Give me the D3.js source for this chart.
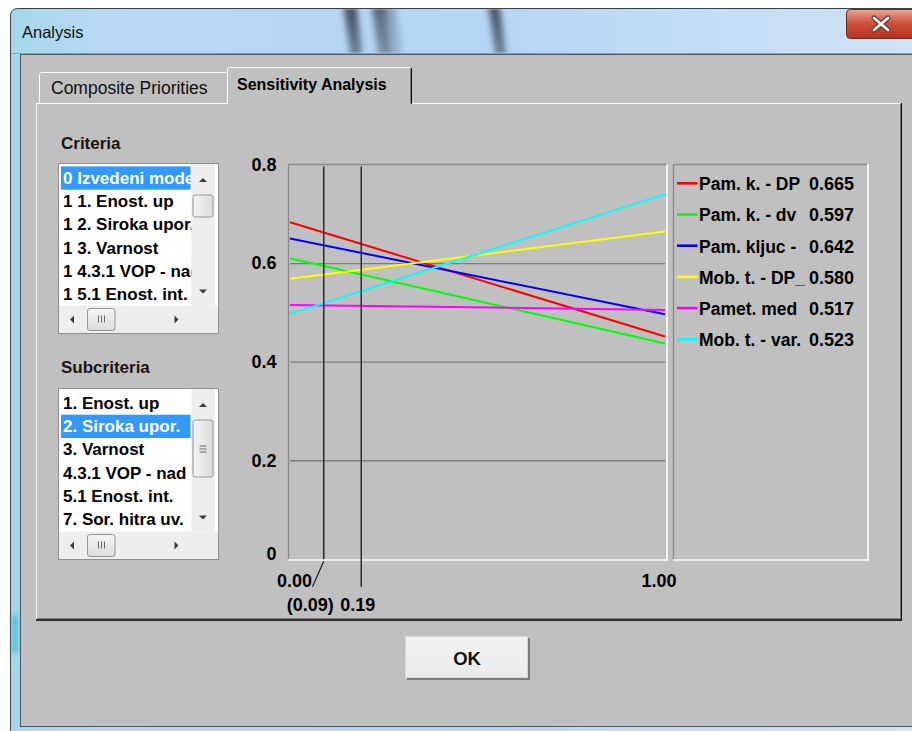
<!DOCTYPE html>
<html><head><meta charset="utf-8">
<script src="https://cdn.jsdelivr.net/npm/d3@7"></script>
<style>
html,body{margin:0;padding:0;background:#fff;overflow:hidden;}
svg{display:block;}
</style></head><body>
<svg id="c" width="912" height="731"></svg>
<script>
// ---------------- DATA ----------------
const seriesNames  = ["Pam. k. - DP", "Pam. k. - dv", "Pam. kljuc -", "Mob. t. - DP_", "Pamet. med", "Mob. t. - var."];
const seriesColors = ["#ff0000", "#00ff00", "#0000ff", "#ffff00", "#ff00ff", "#00ffff"];
const valuesAtZero = [0.684, 0.611, 0.651, 0.569, 0.516, 0.498];
const valuesAtOne  = [0.452, 0.438, 0.497, 0.665, 0.506, 0.741];
const legendValues = ["0.665", "0.597", "0.642", "0.580", "0.517", "0.523"];
const yTicks       = [0, 0.2, 0.4, 0.6, 0.8];
const yTickLabels  = ["0", "0.2", "0.4", "0.6", "0.8"];
const gridValues   = [0.2, 0.4, 0.6];
const xTicks       = [0, 1];
const xTickLabels  = ["0.00", "1.00"];
const markerValues = [0.09, 0.19];
const markerLabels = ["(0.09)", "0.19"];
const criteriaItems    = ["0 Izvedeni model", "1 1. Enost. up", "1 2. Siroka upor.", "1 3. Varnost", "1 4.3.1 VOP - nad", "1 5.1 Enost. int."];
const subcriteriaItems = ["1. Enost. up", "2. Siroka upor.", "3. Varnost", "4.3.1 VOP - nad", "5.1 Enost. int.", "7. Sor. hitra uv."];

// ---------------- SETUP ----------------
const FONT = "'Liberation Sans', Arial, sans-serif";
const GRAY = "#c0c0c0";
const svg = d3.select("#c");
const defs = svg.append("defs");

const tg = defs.append("linearGradient").attr("id", "titleGrad").attr("x1", 0).attr("x2", 1).attr("y1", 0).attr("y2", 0);
tg.append("stop").attr("offset", "0").attr("stop-color", "#a3d9ea");
tg.append("stop").attr("offset", "0.1").attr("stop-color", "#b9d8f4");
tg.append("stop").attr("offset", "0.5").attr("stop-color", "#b4d5f5");
tg.append("stop").attr("offset", "0.8").attr("stop-color", "#c6def5");
tg.append("stop").attr("offset", "1").attr("stop-color", "#d0e3f5");

const streak = defs.append("linearGradient").attr("id", "streak").attr("x1", 0).attr("x2", 0).attr("y1", 0).attr("y2", 1);
streak.append("stop").attr("offset", "0").attr("stop-color", "#2e3a48").attr("stop-opacity", 0.85);
streak.append("stop").attr("offset", "1").attr("stop-color", "#2e3a48").attr("stop-opacity", 0.55);

const cg = defs.append("linearGradient").attr("id", "closeGrad").attr("x1", 0).attr("x2", 0).attr("y1", 0).attr("y2", 1);
cg.append("stop").attr("offset", "0").attr("stop-color", "#e9a99a");
cg.append("stop").attr("offset", "0.45").attr("stop-color", "#d0533c");
cg.append("stop").attr("offset", "1").attr("stop-color", "#b5321c");

const bg = defs.append("linearGradient").attr("id", "btnGrad").attr("x1", 0).attr("x2", 0).attr("y1", 0).attr("y2", 1);
bg.append("stop").attr("offset", "0").attr("stop-color", "#f2f2f2");
bg.append("stop").attr("offset", "1").attr("stop-color", "#ebebeb");

const thg = defs.append("linearGradient").attr("id", "thumbGrad").attr("x1", 0).attr("x2", 1).attr("y1", 0).attr("y2", 0);
thg.append("stop").attr("offset", "0").attr("stop-color", "#f4f4f4");
thg.append("stop").attr("offset", "1").attr("stop-color", "#dcdcdc");
const thgH = defs.append("linearGradient").attr("id", "thumbGradH").attr("x1", 0).attr("x2", 0).attr("y1", 0).attr("y2", 1);
thgH.append("stop").attr("offset", "0").attr("stop-color", "#f4f4f4");
thgH.append("stop").attr("offset", "1").attr("stop-color", "#dcdcdc");

const blur = defs.append("filter").attr("id", "blur").attr("x", "-50%").attr("y", "-50%").attr("width", "200%").attr("height", "200%");
blur.append("feGaussianBlur").attr("stdDeviation", 3);
const blurH = defs.append("filter").attr("id", "blurH").attr("x", "-100%").attr("y", "-20%").attr("width", "300%").attr("height", "140%");
blurH.append("feGaussianBlur").attr("stdDeviation", "3 1");

// ---------------- WINDOW CHROME ----------------
svg.append("rect").attr("width", 912).attr("height", 731).attr("fill", "#ffffff");
svg.append("rect").attr("x", 10.5).attr("y", 8.5).attr("width", 920).attr("height", 740).attr("rx", 7)
  .attr("fill", "url(#titleGrad)").attr("stroke", "#3b3f45").attr("stroke-width", 1);
// background streaks behind glass
const tstreaks = svg.append("g").attr("clip-path", "url(#titleClip)");
defs.append("clipPath").attr("id", "titleClip").append("rect").attr("x", 11).attr("y", 9).attr("width", 900).attr("height", 44);
tstreaks.append("path").attr("d", "M344,9 L357,9 L362,53 L350,53 Z").attr("fill", "url(#streak)").attr("filter", "url(#blurH)");
tstreaks.append("path").attr("d", "M372,9 L386,9 L392,53 L378,53 Z").attr("fill", "url(#streak)").attr("filter", "url(#blurH)").attr("opacity", 0.8);
tstreaks.append("path").attr("d", "M384,9 L396,9 L402,53 L392,53 Z").attr("fill", "url(#streak)").attr("filter", "url(#blurH)").attr("opacity", 0.35);
tstreaks.append("path").attr("d", "M489,9 L500,9 L506,53 L495,53 Z").attr("fill", "url(#streak)").attr("filter", "url(#blurH)");
svg.append("line").attr("x1", 11).attr("x2", 912).attr("y1", 53.5).attr("y2", 53.5).attr("stroke", "#8aa0b6");
// teal glow at left edge
svg.append("rect").attr("x", 12).attr("y", 615).attr("width", 6).attr("height", 38).attr("fill", "#2fb3c6").attr("filter", "url(#blur)").attr("opacity", 0.8);
// title
svg.append("text").attr("x", 22).attr("y", 38).text("Analysis")
  .attr("font-family", FONT).attr("font-size", 16.5).attr("fill", "#101010");
// close button
svg.append("rect").attr("x", 846.5).attr("y", 9.5).attr("width", 80).attr("height", 29).attr("rx", 4)
  .attr("fill", "url(#closeGrad)").attr("stroke", "#6a2a1e");
const cx = 881, cy = 24;
[["#5a3a35", 5], ["#f4f4f4", 2.8]].forEach(([c, w]) => {
  svg.append("path").attr("d", `M${cx - 7},${cy - 6}L${cx + 7},${cy + 6}M${cx + 7},${cy - 6}L${cx - 7},${cy + 6}`)
    .attr("stroke", c).attr("stroke-width", w).attr("stroke-linecap", "round").attr("fill", "none");
});
// client area
svg.append("rect").attr("x", 20.5).attr("y", 54.5).attr("width", 900).attr("height", 672).attr("fill", GRAY)
  .attr("stroke", "#4d5560").attr("stroke-width", 1);

// ---------------- TABS & PANEL ----------------
svg.append("rect").attr("x", 37).attr("y", 103).attr("width", 865).attr("height", 517).attr("fill", GRAY);
const line = (x1, y1, x2, y2, c, w = 1) => svg.append("line").attr("x1", x1).attr("y1", y1).attr("x2", x2).attr("y2", y2)
  .attr("stroke", c).attr("stroke-width", w);
line(36.5, 103, 36.5, 620, "#ffffff");
line(36, 103.5, 227, 103.5, "#ffffff");
line(412, 103.5, 900, 103.5, "#ffffff");
line(900.5, 104, 900.5, 619, "#808080");
line(901.5, 103, 901.5, 621, "#000000");
line(37, 618.5, 901, 618.5, "#808080");
line(36, 620, 902, 620, "#000000", 1.6);
// tab 1
svg.append("path").attr("d", "M39.5,103 V75 Q39.5,72.5 42,72.5 H226").attr("fill", GRAY).attr("stroke", "#ffffff");
svg.append("text").attr("x", 51).attr("y", 94).text("Composite Priorities")
  .attr("font-family", FONT).attr("font-size", 17.5).attr("fill", "#111");
// tab 2 (selected)
svg.append("rect").attr("x", 227).attr("y", 67).attr("width", 185).attr("height", 37).attr("fill", GRAY);
svg.append("path").attr("d", "M227.5,104 V69.5 Q227.5,67.5 229.5,67.5 H410").attr("fill", "none").attr("stroke", "#ffffff");
line(410.5, 69, 410.5, 103, "#808080");
line(411.5, 68, 411.5, 104, "#000000");
svg.append("text").attr("x", 237).attr("y", 90).text("Sensitivity Analysis")
  .attr("font-family", FONT).attr("font-size", 16).attr("font-weight", "bold").attr("fill", "#000");

// ---------------- LIST BOXES ----------------
svg.append("text").attr("x", 61).attr("y", 149).text("Criteria")
  .attr("font-family", FONT).attr("font-size", 17).attr("font-weight", "bold").attr("fill", "#1a1510");
svg.append("text").attr("x", 61).attr("y", 373).text("Subcriteria")
  .attr("font-family", FONT).attr("font-size", 17).attr("font-weight", "bold").attr("fill", "#1a1510");

function tri(g, cxp, cyp, dir) {
  const s = 4;
  let d;
  if (dir === "up") d = `M${cxp - s},${cyp + 2}L${cxp + s},${cyp + 2}L${cxp},${cyp - 2}Z`;
  if (dir === "down") d = `M${cxp - s},${cyp - 2}L${cxp + s},${cyp - 2}L${cxp},${cyp + 2}Z`;
  if (dir === "left") d = `M${cxp + 2},${cyp - s}L${cxp + 2},${cyp + s}L${cxp - 2},${cyp}Z`;
  if (dir === "right") d = `M${cxp - 2},${cyp - s}L${cxp - 2},${cyp + s}L${cxp + 2},${cyp}Z`;
  g.append("path").attr("d", d).attr("fill", "#3c3c3c");
}

function listBox(id, bx, by, bw, bh, items, sel, thumbTop, thumbBot, vGrip) {
  const g = svg.append("g");
  g.append("rect").attr("x", bx + 0.5).attr("y", by + 0.5).attr("width", bw).attr("height", bh)
    .attr("fill", "#ffffff").attr("stroke", "#8a8f96");
  const vsx = bx + 133.5, hsy = by + bh - 27.5;
  defs.append("clipPath").attr("id", id).append("rect").attr("x", bx + 1).attr("y", by + 1).attr("width", vsx - bx - 1).attr("height", hsy - by - 1);
  const rows = g.append("g").attr("clip-path", `url(#${id})`);
  const rowH = 23.3, firstTop = by + 3.4;
  items.forEach((t, i) => {
    const top = firstTop + i * rowH;
    if (i === sel) rows.append("rect").attr("x", bx + 3).attr("y", top).attr("width", 129.5).attr("height", rowH).attr("fill", "#3399ff");
    rows.append("text").attr("x", bx + 5).attr("y", top + 17.3).text(t)
      .attr("font-family", FONT).attr("font-size", 17).attr("font-weight", "bold")
      .attr("fill", i === sel ? "#ffffff" : "#000000");
  });
  // vertical scrollbar
  g.append("rect").attr("x", vsx).attr("y", by + 1).attr("width", 23.5).attr("height", hsy - by - 1).attr("fill", "#eeeeee");
  tri(g, vsx + 11.5, by + 17, "up");
  tri(g, vsx + 11.5, hsy - 14, "down");
  g.append("rect").attr("x", vsx + 1.5).attr("y", thumbTop).attr("width", 20).attr("height", thumbBot - thumbTop).attr("rx", 2.5)
    .attr("fill", "url(#thumbGrad)").attr("stroke", "#949494");
  if (vGrip) {
    const mc = (thumbTop + thumbBot) / 2;
    [-3, 0, 3].forEach(o => g.append("line").attr("x1", vsx + 8).attr("x2", vsx + 15).attr("y1", mc + o + 0.5).attr("y2", mc + o + 0.5).attr("stroke", "#666"));
  }
  // horizontal scrollbar
  g.append("rect").attr("x", bx + 1).attr("y", hsy).attr("width", bw - 1).attr("height", bh + by - hsy).attr("fill", "#eeeeee");
  tri(g, bx + 14, hsy + 14, "left");
  tri(g, bx + 118.5, hsy + 14, "right");
  g.append("rect").attr("x", bx + 29.5).attr("y", hsy + 3).attr("width", 27.5).attr("height", 22).attr("rx", 2.5)
    .attr("fill", "url(#thumbGradH)").attr("stroke", "#949494");
  const hc = bx + 43;
  [-3, 0, 3].forEach(o => g.append("line").attr("x1", hc + o + 0.5).attr("x2", hc + o + 0.5).attr("y1", hsy + 10).attr("y2", hsy + 17).attr("stroke", "#666"));
  g.append("rect").attr("x", bx + 0.5).attr("y", by + 0.5).attr("width", bw).attr("height", bh)
    .attr("fill", "none").attr("stroke", "#8a8f96");
}
listBox("clipA", 58, 163, 160, 170, criteriaItems, 0, 195, 217, false);
listBox("clipB", 58, 388, 160, 171, subcriteriaItems, 1, 420, 477, true);

// ---------------- CHART ----------------
const x = d3.scaleLinear().domain([0, 1]).range([290, 665]);
const y = d3.scaleLinear().domain([0, 0.8]).range([559.3, 165]);
const plotL = 288.5, plotT = 164.5, plotR = 667, plotB = 560;

const chart = svg.append("g");
// frame
chart.append("line").attr("x1", plotL).attr("x2", plotL).attr("y1", plotT).attr("y2", plotB).attr("stroke", "#8a8a8a").attr("stroke-width", 1.3);
chart.append("line").attr("x1", plotL).attr("x2", plotR).attr("y1", plotT).attr("y2", plotT).attr("stroke", "#8a8a8a").attr("stroke-width", 1.3);
chart.append("line").attr("x1", plotR).attr("x2", plotR).attr("y1", plotT).attr("y2", plotB + 0.7).attr("stroke", "#ffffff").attr("stroke-width", 1.6);
chart.append("line").attr("x1", plotL - 0.7).attr("x2", plotR).attr("y1", plotB).attr("y2", plotB).attr("stroke", "#ffffff").attr("stroke-width", 1.6);

// grid
chart.selectAll(".grid").data(gridValues).join("line").attr("class", "grid")
  .attr("x1", x(0)).attr("x2", x(1)).attr("y1", d => y(d)).attr("y2", d => y(d))
  .attr("stroke", "#7d7d7d").attr("stroke-width", 1.3);

// y axis
const yAxis = d3.axisLeft(y).tickValues(yTicks).tickSize(0).tickPadding(12)
  .tickFormat((d, i) => yTickLabels[i]);
chart.append("g").attr("transform", `translate(${plotL},0)`).call(yAxis)
  .call(g => g.select(".domain").remove())
  .call(g => g.selectAll("text").attr("font-family", FONT).attr("font-size", 18).attr("font-weight", "bold")
    .attr("fill", "#000").attr("dy", (d, i) => d === 0 ? "0.0em" : "0.3em"))
  .attr("font-family", null).attr("font-size", null);

// x axis
const xOffsets = [4, -6.5];
const xAxis = d3.axisBottom(x).tickValues(xTicks).tickSize(0).tickPadding(14.6)
  .tickFormat((d, i) => xTickLabels[i]);
chart.append("g").attr("transform", `translate(0,${y(0)})`).call(xAxis)
  .call(g => g.select(".domain").remove())
  .call(g => g.selectAll("text").attr("font-family", FONT).attr("font-size", 18).attr("font-weight", "bold")
    .attr("fill", "#000").attr("dx", (d, i) => xOffsets[i]))
  .attr("font-family", null).attr("font-size", null);

// series lines
const lineGen = d3.line().x(d => x(d[0])).y(d => y(d[1]));
seriesNames.forEach((n, i) => {
  chart.append("path").datum([[0, valuesAtZero[i]], [1, valuesAtOne[i]]])
    .attr("d", lineGen).attr("fill", "none").attr("stroke", seriesColors[i]).attr("stroke-width", 2);
});

// marker lines
const mTop = y(0.8) + 1.5;
const m0 = x(markerValues[0]), m1 = x(markerValues[1]);
chart.append("line").attr("x1", m0).attr("x2", m0).attr("y1", mTop).attr("y2", y(0)).attr("stroke", "#222").attr("stroke-width", 1.4);
chart.append("line").attr("x1", m0).attr("x2", m0 - 11.3).attr("y1", y(0) + 2).attr("y2", y(0) + 27.5).attr("stroke", "#222").attr("stroke-width", 1.2);
chart.append("line").attr("x1", m1).attr("x2", m1).attr("y1", mTop).attr("y2", y(0) + 27.5).attr("stroke", "#222").attr("stroke-width", 1.4);
chart.append("text").attr("x", m0 + 10).attr("y", y(0) + 51.5).attr("text-anchor", "end").text(markerLabels[0])
  .attr("font-family", FONT).attr("font-size", 18).attr("font-weight", "bold").attr("fill", "#000");
chart.append("text").attr("x", m1 - 21).attr("y", y(0) + 51.5).text(markerLabels[1])
  .attr("font-family", FONT).attr("font-size", 18).attr("font-weight", "bold").attr("fill", "#000");

// legend box
const lg = svg.append("g");
lg.append("line").attr("x1", 673.5).attr("x2", 673.5).attr("y1", 164).attr("y2", 560).attr("stroke", "#8a8a8a").attr("stroke-width", 1.3);
lg.append("line").attr("x1", 673).attr("x2", 868).attr("y1", 164.5).attr("y2", 164.5).attr("stroke", "#8a8a8a").attr("stroke-width", 1.3);
lg.append("line").attr("x1", 868).attr("x2", 868).attr("y1", 164).attr("y2", 561).attr("stroke", "#ffffff").attr("stroke-width", 1.6);
lg.append("line").attr("x1", 673).attr("x2", 868.5).attr("y1", 560).attr("y2", 560).attr("stroke", "#ffffff").attr("stroke-width", 1.6);
const rowY = d3.scaleLinear().domain([0, 1]).range([183.3, 214.5]);
seriesNames.forEach((n, i) => {
  const ry = rowY(i);
  lg.append("line").attr("x1", 677).attr("x2", 697.5).attr("y1", ry).attr("y2", ry).attr("stroke", seriesColors[i]).attr("stroke-width", 2.6);
  lg.append("text").attr("x", 699).attr("y", ry + 6.8).text(n)
    .attr("font-family", FONT).attr("font-size", 17.5).attr("font-weight", "bold").attr("fill", "#000");
  lg.append("text").attr("x", 809).attr("y", ry + 6.8).text(legendValues[i])
    .attr("font-family", FONT).attr("font-size", 18).attr("font-weight", "bold").attr("fill", "#000");
});

// ---------------- OK BUTTON ----------------
svg.append("rect").attr("x", 407).attr("y", 638).attr("width", 123).attr("height", 42).attr("fill", "#7a7a7a");
svg.append("rect").attr("x", 405.5).attr("y", 636.5).attr("width", 122).attr("height", 41)
  .attr("fill", "url(#btnGrad)").attr("stroke", "#d9d9d9");
svg.append("text").attr("x", 467).attr("y", 665).attr("text-anchor", "middle").text("OK")
  .attr("font-family", FONT).attr("font-size", 18.5).attr("font-weight", "bold").attr("fill", "#111");
</script>
</body></html>
